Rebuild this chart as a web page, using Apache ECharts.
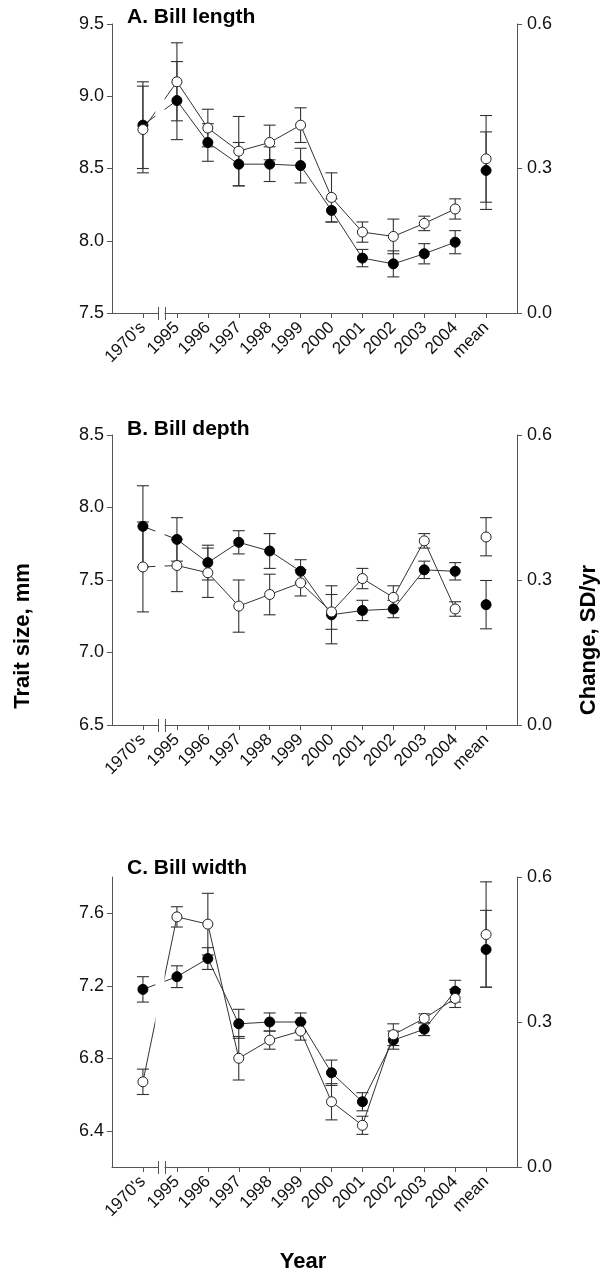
<!DOCTYPE html>
<html>
<head>
<meta charset="utf-8">
<script src="https://cdn.jsdelivr.net/npm/echarts@6/dist/echarts.min.js"></script>
<style>
  html, body { margin: 0; padding: 0; background: #fff; }
  #chart { width: 606px; height: 1276px; }
</style>
</head>
<body>
<div id="chart"></div>
<script>
// Categories along the x axis (the last one is the mean rate of change)
const categories = ["1970's", "1995", "1996", "1997", "1998", "1999", "2000", "2001", "2002", "2003", "2004", "mean"];

// Tick labels
const lengthTicks = [7.5, 8.0, 8.5, 9.0, 9.5];
const depthTicks = [6.5, 7.0, 7.5, 8.0, 8.5];
const widthTicks = [6.4, 6.8, 7.2, 7.6];
const changeTicks = [0.0, 0.3, 0.6];

// A. Bill length (mm), yearly means and error half-widths
const lengthFilled    = [8.80, 8.97, 8.68, 8.53, 8.53, 8.52, 8.21, 7.88, 7.84, 7.91, 7.99];
const lengthFilledErr = [0.30, 0.27, 0.13, 0.15, 0.12, 0.12, 0.08, 0.06, 0.09, 0.07, 0.08];
const lengthOpen      = [8.77, 9.10, 8.78, 8.62, 8.68, 8.80, 8.30, 8.06, 8.03, 8.12, 8.22];
const lengthOpenErr   = [0.30, 0.27, 0.13, 0.24, 0.12, 0.12, 0.17, 0.07, 0.12, 0.05, 0.07];
// mean change, SD/yr: [value, low, high]
const lengthMeanFilled = [0.296, 0.215, 0.376];
const lengthMeanOpen   = [0.320, 0.230, 0.410];

// B. Bill depth (mm)
const depthFilled    = [7.87, 7.78, 7.62, 7.76, 7.70, 7.56, 7.26, 7.29, 7.30, 7.57, 7.56];
const depthFilledErr = [0.28, 0.15, 0.12, 0.08, 0.12, 0.08, 0.20, 0.07, 0.06, 0.06, 0.06];
const depthOpen      = [7.59, 7.60, 7.55, 7.32, 7.40, 7.48, 7.28, 7.51, 7.38, 7.77, 7.30];
const depthOpenErr   = [0.31, 0.18, 0.17, 0.18, 0.14, 0.09, 0.12, 0.07, 0.08, 0.05, 0.05];
const depthMeanFilled = [0.249, 0.199, 0.299];
const depthMeanOpen   = [0.389, 0.350, 0.429];

// C. Bill width (mm)
const widthFilled    = [7.18, 7.25, 7.35, 6.99, 7.00, 7.00, 6.72, 6.56, 6.90, 6.96, 7.17];
const widthFilledErr = [0.07, 0.06, 0.06, 0.08, 0.05, 0.05, 0.07, 0.05, 0.05, 0.035, 0.06];
const widthOpen      = [6.67, 7.58, 7.54, 6.80, 6.90, 6.95, 6.56, 6.43, 6.93, 7.02, 7.13];
const widthOpenErr   = [0.07, 0.056, 0.17, 0.12, 0.05, 0.05, 0.10, 0.05, 0.06, 0.025, 0.05];
const widthMeanFilled = [0.450, 0.372, 0.531];
const widthMeanOpen   = [0.481, 0.372, 0.590];

const FONT = "'Liberation Sans', Arial, Helvetica, sans-serif";
const AXIS = '#555';
const INK = '#333';

// x positions: a wider step after 1970's leaves room for the axis break
const xPos = categories.map((c, i) => (i === 0 ? 0 : i + 0.1));
const yearX = xPos.slice(0, 11);
const meanX = xPos[11];
const labelFor = v => {
  const i = xPos.findIndex(p => Math.abs(p - v) < 1e-6);
  return i < 0 ? '' : categories[i];
};

const panels = [
  { title: 'A. Bill length', titleTop: 7, top: 24, height: 289, min: 7.5, max: 9.5, ticks: lengthTicks,
    filled: lengthFilled, filledErr: lengthFilledErr, open: lengthOpen, openErr: lengthOpenErr,
    meanFilled: lengthMeanFilled, meanOpen: lengthMeanOpen },
  { title: 'B. Bill depth', titleTop: 419, top: 435, height: 290, min: 6.5, max: 8.5, ticks: depthTicks,
    filled: depthFilled, filledErr: depthFilledErr, open: depthOpen, openErr: depthOpenErr,
    meanFilled: depthMeanFilled, meanOpen: depthMeanOpen },
  { title: 'C. Bill width', titleTop: 858, top: 877, height: 290, min: 6.2, max: 7.8, ticks: widthTicks,
    filled: widthFilled, filledErr: widthFilledErr, open: widthOpen, openErr: widthOpenErr,
    meanFilled: widthMeanFilled, meanOpen: widthMeanOpen }
];

function errorBars(api) {
  const x = api.value(0);
  const lo = api.coord([x, api.value(1)]);
  const hi = api.coord([x, api.value(2)]);
  const w = 6;
  const style = { stroke: INK, lineWidth: 1.1 };
  return {
    type: 'group',
    children: [
      { type: 'line', shape: { x1: lo[0], y1: lo[1], x2: hi[0], y2: hi[1] }, style },
      { type: 'line', shape: { x1: lo[0] - w, y1: lo[1], x2: lo[0] + w, y2: lo[1] }, style },
      { type: 'line', shape: { x1: hi[0] - w, y1: hi[1], x2: hi[0] + w, y2: hi[1] }, style }
    ]
  };
}

const tickLabelStyle = { fontFamily: FONT, fontSize: 18, color: '#111' };

const grid = panels.map(p => ({ left: 112, right: 89, top: p.top, height: p.height }));

const xAxis = panels.map((p, i) => ({
  type: 'value', gridIndex: i, min: -1, max: 12.1,
  axisLine: { show: true, onZero: false, lineStyle: { color: AXIS, width: 1 } },
  axisTick: { show: true, length: 5, customValues: xPos, lineStyle: { color: AXIS } },
  axisLabel: Object.assign({ customValues: xPos, rotate: 45, margin: 12, formatter: labelFor }, tickLabelStyle, { fontSize: 17 }),
  splitLine: { show: false }
}));

const yAxis = [];
panels.forEach((p, i) => {
  yAxis.push({
    type: 'value', gridIndex: i, position: 'left', min: p.min, max: p.max,
    axisLine: { show: true, onZero: false, lineStyle: { color: AXIS, width: 1 } },
    axisTick: { show: true, length: 5, customValues: p.ticks, lineStyle: { color: AXIS } },
    axisLabel: Object.assign({ customValues: p.ticks, margin: 8, formatter: v => v.toFixed(1) }, tickLabelStyle),
    splitLine: { show: false }
  });
  yAxis.push({
    type: 'value', gridIndex: i, position: 'right', min: 0, max: 0.6,
    axisLine: { show: true, onZero: false, lineStyle: { color: AXIS, width: 1 } },
    axisTick: { show: true, length: 5, customValues: changeTicks, lineStyle: { color: AXIS } },
    axisLabel: Object.assign({ customValues: changeTicks, margin: 10, formatter: v => v.toFixed(1) }, tickLabelStyle),
    splitLine: { show: false }
  });
});

const series = [];
panels.forEach((p, i) => {
  const left = 2 * i, right = 2 * i + 1;
  const bars = (vals, errs) => yearX.map((x, k) => [x, vals[k] - errs[k], vals[k] + errs[k]]);
  series.push({
    type: 'custom', xAxisIndex: i, yAxisIndex: left, z: 2, silent: true,
    renderItem: (params, api) => errorBars(api), encode: { x: 0, y: [1, 2] },
    data: bars(p.filled, p.filledErr)
  });
  series.push({
    type: 'custom', xAxisIndex: i, yAxisIndex: left, z: 2, silent: true,
    renderItem: (params, api) => errorBars(api), encode: { x: 0, y: [1, 2] },
    data: bars(p.open, p.openErr)
  });
  series.push({
    type: 'custom', xAxisIndex: i, yAxisIndex: right, z: 2, silent: true,
    renderItem: (params, api) => errorBars(api), encode: { x: 0, y: [1, 2] },
    data: [[meanX, p.meanFilled[1], p.meanFilled[2]], [meanX, p.meanOpen[1], p.meanOpen[2]]]
  });
  series.push({
    type: 'line', xAxisIndex: i, yAxisIndex: left, z: 3, silent: true,
    data: yearX.map((x, k) => [x, p.filled[k]]),
    symbol: 'circle', symbolSize: 10,
    itemStyle: { color: '#000', borderColor: '#000', borderWidth: 1 },
    lineStyle: { color: INK, width: 1 }
  });
  series.push({
    type: 'line', xAxisIndex: i, yAxisIndex: left, z: 4, silent: true,
    data: yearX.map((x, k) => [x, p.open[k]]),
    symbol: 'circle', symbolSize: 10,
    itemStyle: { color: '#fff', borderColor: '#222', borderWidth: 1 },
    lineStyle: { color: INK, width: 1 }
  });
  series.push({
    type: 'scatter', xAxisIndex: i, yAxisIndex: right, z: 3, silent: true,
    data: [[meanX, p.meanFilled[0]]], symbol: 'circle', symbolSize: 10,
    itemStyle: { color: '#000', borderColor: '#000', borderWidth: 1, opacity: 1 }
  });
  series.push({
    type: 'scatter', xAxisIndex: i, yAxisIndex: right, z: 4, silent: true,
    data: [[meanX, p.meanOpen[0]]], symbol: 'circle', symbolSize: 10,
    itemStyle: { color: '#fff', borderColor: '#222', borderWidth: 1, opacity: 1 }
  });
});

const title = panels.map(p => ({
  text: p.title, left: 127, top: p.titleTop, padding: 0,
  textStyle: { fontFamily: FONT, fontSize: 21, fontWeight: 'bold', color: '#000' }
}));

const chart = echarts.init(document.getElementById('chart'), null, { renderer: 'canvas' });
chart.setOption({
  animation: false,
  backgroundColor: '#fff',
  title, grid, xAxis, yAxis, series
});

// Axis titles and the axis break marks (placed through the axes' own scales)
const graphic = [
  { type: 'text', x: 23, y: 636, rotation: Math.PI / 2, z: 100,
    style: { text: 'Trait size, mm', font: 'bold 22px ' + FONT, fill: '#000', textAlign: 'center', textVerticalAlign: 'middle' } },
  { type: 'text', x: 589, y: 640, rotation: Math.PI / 2, z: 100,
    style: { text: 'Change, SD/yr', font: 'bold 22px ' + FONT, fill: '#000', textAlign: 'center', textVerticalAlign: 'middle' } },
  { type: 'text', x: 303, y: 1262, z: 100,
    style: { text: 'Year', font: 'bold 22px ' + FONT, fill: '#000', textAlign: 'center', textVerticalAlign: 'middle' } }
];
panels.forEach((p, i) => {
  const b1 = chart.convertToPixel({ xAxisIndex: i }, 0.5);
  const b2 = chart.convertToPixel({ xAxisIndex: i }, 0.7);
  const yBottom = chart.convertToPixel({ yAxisIndex: 2 * i }, p.min);
  const yTop = chart.convertToPixel({ yAxisIndex: 2 * i }, p.max);
  graphic.push({ type: 'rect', z: 100, silent: true,
    shape: { x: b1 - 3, y: yTop, width: b2 - b1 + 3, height: yBottom - yTop - 2 },
    style: { fill: '#fff' } });
  graphic.push({ type: 'rect', z: 100, silent: true,
    shape: { x: b1, y: yBottom - 2, width: b2 - b1, height: 4 },
    style: { fill: '#fff' } });
  [b1, b2].forEach(bx => graphic.push({ type: 'line', z: 101, silent: true,
    shape: { x1: Math.round(bx) + 0.5, y1: yBottom - 6, x2: Math.round(bx) + 0.5, y2: yBottom + 7 },
    style: { stroke: AXIS, lineWidth: 1 } }));
});
chart.setOption({ graphic });
</script>
</body>
</html>
